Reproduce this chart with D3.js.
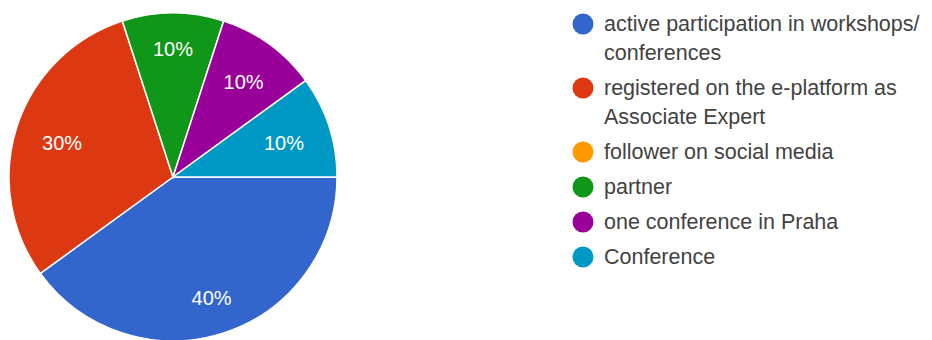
<!DOCTYPE html>
<html>
<head>
<meta charset="utf-8">
<script src="https://cdn.jsdelivr.net/npm/d3@7"></script>
<style>
  html, body { margin: 0; padding: 0; background: #fff; }
  svg { display: block; }
</style>
</head>
<body>
<svg id="chart" width="932" height="340"></svg>
<script>
// Answer categories, with the legend wrapped onto lines as shown
const categories = [
  "active participation in workshops/ conferences",
  "registered on the e-platform as Associate Expert",
  "follower on social media",
  "partner",
  "one conference in Praha",
  "Conference"
];
const legendLines = [
  ["active participation in workshops/", "conferences"],
  ["registered on the e-platform as", "Associate Expert"],
  ["follower on social media"],
  ["partner"],
  ["one conference in Praha"],
  ["Conference"]
];
const shares = [40, 30, 0, 10, 10, 10];
const colors = ["#3366cc", "#dc3912", "#ff9900", "#109618", "#990099", "#0099c6"];

const FONT = "Arial, 'Liberation Sans', sans-serif";
const svg = d3.select("#chart");
const cx = 173, cy = 177, R = 164;

const color = d3.scaleOrdinal().domain(categories).range(colors);
const data = categories.map((c, i) => ({ name: c, value: shares[i], lines: legendLines[i] }));

// Slices start at 3 o'clock and run clockwise in category order
const pie = d3.pie().sort(null).value(d => d.value)
  .startAngle(Math.PI / 2).endAngle(Math.PI / 2 + 2 * Math.PI);
const arcs = pie(data).filter(a => a.data.value > 0);
const arc = d3.arc().innerRadius(0).outerRadius(R);

const g = svg.append("g").attr("transform", `translate(${cx},${cy})`);
g.selectAll("path.slice").data(arcs).join("path")
  .attr("class", "slice")
  .attr("d", arc)
  .attr("fill", d => color(d.data.name))
  .attr("stroke", "#fff")
  .attr("stroke-width", 1.5);

// Percentage labels: each label box is pushed in so its outer corner
// stays a fixed distance from the centre
const total = d3.sum(shares);
const cornerR = 138;
g.selectAll("text.pct").data(arcs).join("text")
  .attr("class", "pct")
  .attr("text-anchor", "middle")
  .attr("dominant-baseline", "central")
  .attr("dy", "0.1em")
  .attr("font-family", FONT)
  .attr("font-size", 20)
  .attr("fill", "#fff")
  .text(d => d3.format(".0%")(d.data.value / total))
  .attr("transform", function (d) {
    const a = (d.startAngle + d.endAngle) / 2;
    const hw = this.getComputedTextLength() / 2, hh = 7.5;
    const r = cornerR - hw * Math.abs(Math.sin(a)) - hh * Math.abs(Math.cos(a));
    return `translate(${r * Math.sin(a)},${-r * Math.cos(a)})`;
  });

// Legend
const lx = 583, tx = 604, lineH = 29, itemGap = 35;
let y = 24;
const legend = svg.append("g");
data.forEach(d => {
  const item = legend.append("g");
  item.append("circle").attr("cx", lx).attr("cy", y).attr("r", 10.5)
    .attr("fill", color(d.name));
  d.lines.forEach((ln, j) => {
    item.append("text")
      .attr("x", tx).attr("y", y + j * lineH)
      .attr("dominant-baseline", "central")
      .attr("font-family", FONT)
      .attr("font-size", 21.5)
      .attr("fill", "#424242")
      .text(ln);
  });
  y += (d.lines.length - 1) * lineH + itemGap;
});
</script>
</body>
</html>
